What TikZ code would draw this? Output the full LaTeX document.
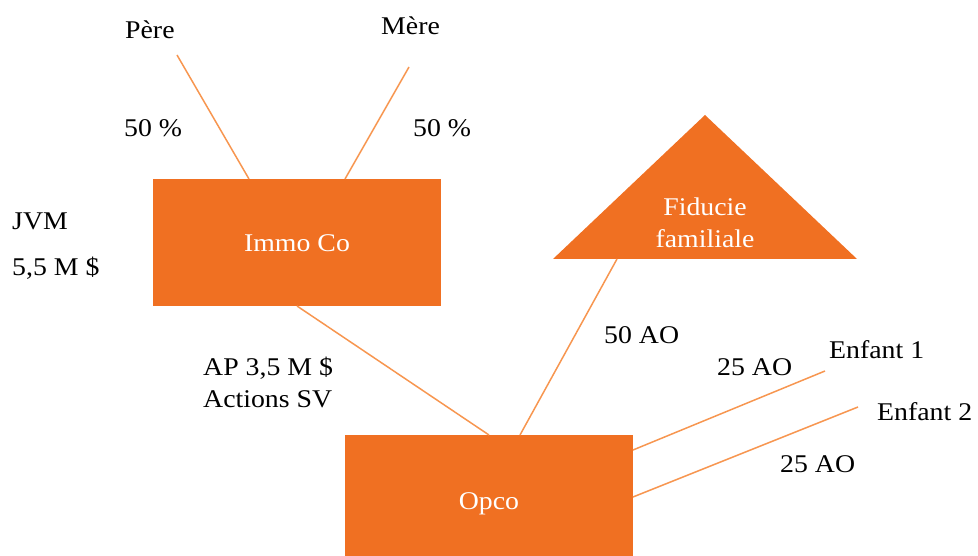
\documentclass[tikz,border=0pt]{standalone}
\usepackage{fontspec}
\setmainfont{Liberation Serif}[FakeStretch=1.09]
\definecolor{boxor}{RGB}{240,112,34}
\definecolor{lineor}{RGB}{247,150,80}
\begin{document}
\begin{tikzpicture}[x=1pt,y=-1pt,
  lbl/.style={font=\fontsize{25.5}{31}\selectfont, inner sep=0pt, anchor=base west},
  wlbl/.style={font=\fontsize{25.5}{31}\selectfont, inner sep=0pt, text=white, anchor=base, align=center},
  obox/.style={fill=boxor, draw=none, inner sep=0pt},
  conn/.style={draw=lineor, line width=1.5pt}]
\useasboundingbox (0,0) rectangle (978,556);
% boxes
\node[obox, minimum width=288pt, minimum height=127pt] (immo) at (297,242.5) {};
\node[obox, minimum width=288pt, minimum height=121pt] (opco) at (489,495.5) {};
\fill[boxor] (553,259) -- (705,115) -- (857,259) -- cycle;
% box texts
\node[wlbl] (immot) at (297,252) {Immo Co};
\node[wlbl] (opcot) at (489,509) {Opco};
\node[wlbl, anchor=base] (fid1) at (705,216) {Fiducie};
\node[wlbl, anchor=base] (fid2) at (705,248) {familiale};
% labels
\node[lbl] (pere) at (125,39) {Père};
\node[lbl] (mere) at (381,35) {Mère};
\node[lbl] (p50a) at (124,137) {50 \%};
\node[lbl] (p50b) at (413,137) {50 \%};
\node[lbl] (jvm) at (12,230) {JVM};
\node[lbl] (val) at (12,276) {5,5 M \$};
\node[lbl] (ap) at (203,375) {AP 3,5 M \$};
\node[lbl] (asv) at (203,407) {Actions SV};
\node[lbl] (ao50) at (604,343) {50 AO};
\node[lbl] (ao25a) at (717,375) {25 AO};
\node[lbl] (enf1) at (829,358) {Enfant 1};
\node[lbl] (enf2) at (877,420) {Enfant 2};
\node[lbl] (ao25b) at (780,472) {25 AO};
% connector endpoints
\coordinate (pereE) at (177,55);
\coordinate (immoP) at (249,179);
\coordinate (mereE) at (409,67);
\coordinate (immoM) at (345,179);
\coordinate (immoB) at (297,306);
\coordinate (opcoI) at (489,435);
\coordinate (fidB) at (617,259);
\coordinate (opcoF) at (520,435);
\coordinate (opcoE1) at (633,450);
\coordinate (enf1E) at (825,371);
\coordinate (opcoE2) at (633,497);
\coordinate (enf2E) at (858,407);
\draw[conn] (pereE) -- (immoP);
\draw[conn] (mereE) -- (immoM);
\draw[conn] (immoB) -- (opcoI);
\draw[conn] (fidB) -- (opcoF);
\draw[conn] (opcoE1) -- (enf1E);
\draw[conn] (opcoE2) -- (enf2E);
\end{tikzpicture}
\end{document}
